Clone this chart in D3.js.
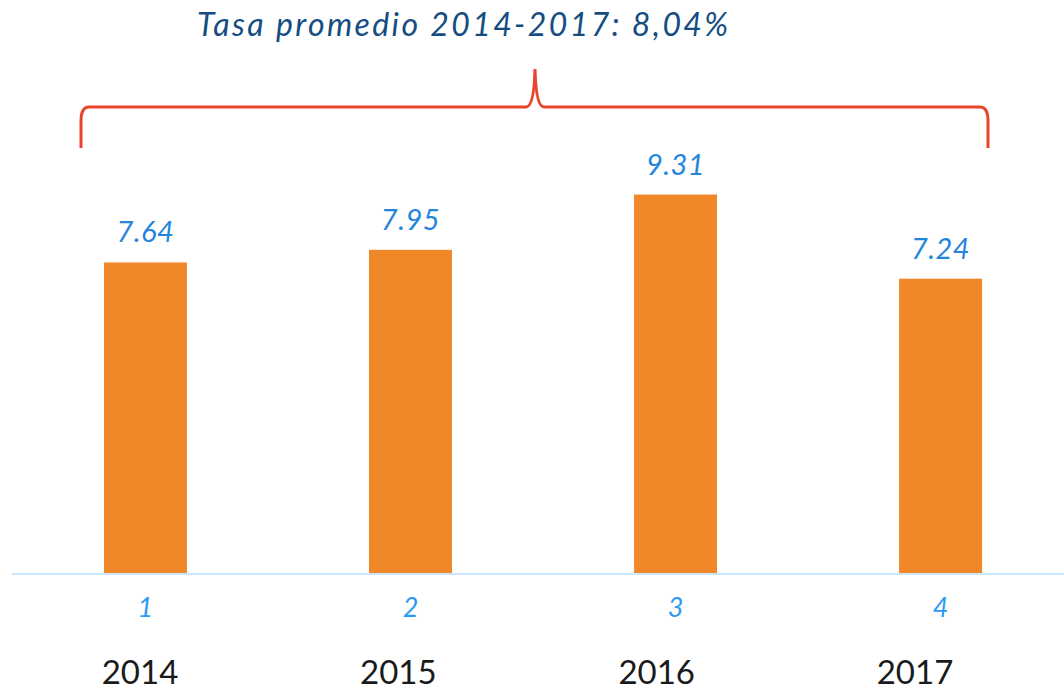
<!DOCTYPE html>
<html>
<head>
<meta charset="utf-8">
<script src="https://cdn.jsdelivr.net/npm/d3@7"></script>
<style>
  html, body { margin: 0; padding: 0; background: #fff; }
  svg { display: block; }
</style>
</head>
<body>
<div id="chart"></div>
<script>
var years = ["2014", "2015", "2016", "2017"];
var tickNums = ["1", "2", "3", "4"];
var values = [7.64, 7.95, 9.31, 7.24];
var valueLabels = ["7.64", "7.95", "9.31", "7.24"];
var title = "Tasa promedio 2014-2017: 8,04%";

var w = 1064,
    h = 690;

var svg = d3.select("#chart").append("svg")
    .attr("width", w)
    .attr("height", h)
    .attr("viewBox", "0 0 " + w + " " + h);

var x = d3.scaleBand()
    .domain(tickNums)
    .range([12, 1074])
    .paddingInner(0.687)
    .paddingOuter(0.347);

var y = d3.scaleLinear()
    .domain([0, 10])
    .range([573, 166.5]);

// years sit a bit left of the bars in the original
var xYear = d3.scalePoint()
    .domain(years)
    .range([140, 915]);

// bars
svg.selectAll("rect.bar")
    .data(values)
    .enter().append("rect")
    .attr("class", "bar")
    .attr("x", function(d, i) { return x(tickNums[i]); })
    .attr("width", x.bandwidth())
    .attr("y", function(d) { return y(d); })
    .attr("height", function(d) { return y(0) - y(d); })
    .attr("fill", "#f0882a");

// baseline
svg.append("line")
    .attr("x1", 12).attr("x2", w)
    .attr("y1", y(0) + 1).attr("y2", y(0) + 1)
    .attr("stroke", "#cbe6f8")
    .attr("stroke-width", 2);

// value labels
svg.selectAll("text.val")
    .data(values)
    .enter().append("text")
    .attr("class", "val")
    .attr("x", function(d, i) { return x(tickNums[i]) + x.bandwidth() / 2; })
    .attr("y", function(d) { return y(d) - 20; })
    .attr("text-anchor", "middle")
    .attr("font-family", "Lato, sans-serif")
    .attr("font-style", "italic")
    .attr("font-size", 29)
    .attr("letter-spacing", 0.5)
    .attr("fill", "#2385dc")
    .text(function(d, i) { return valueLabels[i]; });

// category numbers
var axis = d3.axisBottom(x).tickSize(0).tickPadding(0);
var gAxis = svg.append("g")
    .attr("transform", "translate(0," + 617 + ")")
    .call(axis);
gAxis.select(".domain").remove();
gAxis.selectAll("text")
    .attr("dy", 0)
    .attr("font-family", "Lato, sans-serif")
    .attr("font-style", "italic")
    .attr("font-size", 27)
    .attr("fill", "#2b9af3");

// year labels
svg.selectAll("text.year")
    .data(years)
    .enter().append("text")
    .attr("class", "year")
    .attr("x", function(d) { return xYear(d); })
    .attr("y", 684)
    .attr("text-anchor", "middle")
    .attr("font-family", "Lato, sans-serif")
    .attr("font-size", 33)
    .attr("fill", "#1a1a1a")
    .text(function(d) { return d; });

// brace over all years
var bx0 = 81, bx1 = 988, byTop = 107, byBot = 148, peakX = 535, peakY = 69, r = 8;
var brace = d3.path();
brace.moveTo(bx0, byBot);
brace.lineTo(bx0, byTop + r + 6);
brace.quadraticCurveTo(bx0, byTop, bx0 + r, byTop);
brace.lineTo(peakX - 9, byTop);
brace.quadraticCurveTo(peakX - 1, byTop, peakX, peakY);
brace.quadraticCurveTo(peakX + 1, byTop, peakX + 9, byTop);
brace.lineTo(bx1 - r, byTop);
brace.quadraticCurveTo(bx1, byTop, bx1, byTop + r + 6);
brace.lineTo(bx1, byBot);
svg.append("path")
    .attr("d", brace.toString())
    .attr("fill", "none")
    .attr("stroke", "#e8462c")
    .attr("stroke-width", 3);

// title
svg.append("text")
    .attr("x", 197)
    .attr("y", 36)
    .attr("font-family", "Lato, sans-serif")
    .attr("font-style", "italic")
    .attr("font-size", 32)
    .attr("letter-spacing", 2.4)
    .attr("fill", "#154d82")
    .text(title);
</script>
</body>
</html>
